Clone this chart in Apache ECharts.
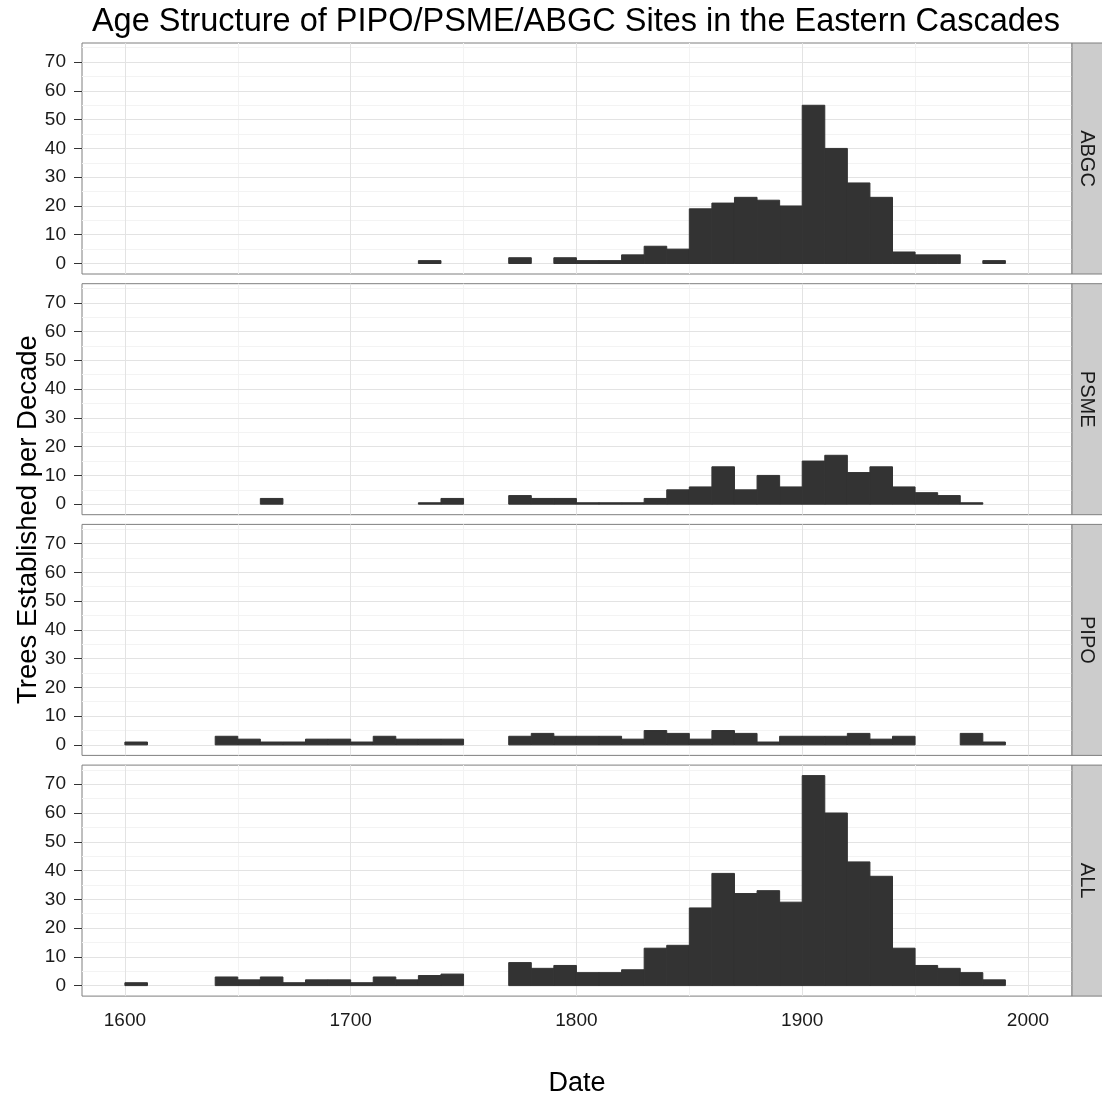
<!DOCTYPE html>
<html>
<head>
<meta charset="utf-8">
<title>Age Structure of PIPO/PSME/ABGC Sites in the Eastern Cascades</title>
<script src="https://cdn.jsdelivr.net/npm/echarts@6/dist/echarts.min.js"></script>
<style>
  html, body { margin: 0; padding: 0; background: #ffffff; }
  #chart { width: 1102px; height: 1099px; }
</style>
</head>
<body>
<div id="chart"></div>
<script>
// Decade bins (start year of each 10-year bin)
const decades = [1600, 1610, 1620, 1630, 1640, 1650, 1660, 1670, 1680, 1690,
                 1700, 1710, 1720, 1730, 1740, 1750, 1760, 1770, 1780, 1790,
                 1800, 1810, 1820, 1830, 1840, 1850, 1860, 1870, 1880, 1890,
                 1900, 1910, 1920, 1930, 1940, 1950, 1960, 1970, 1980, 1990];
const binWidth = 10;

// Trees established per decade, by species
const abgc = [0, 0, 0, 0, 0, 0, 0, 0, 0, 0,
              0, 0, 0, 1, 0, 0, 0, 2, 0, 2,
              1, 1, 3, 6, 5, 19, 21, 23, 22, 20,
              55, 40, 28, 23, 4, 3, 3, 0, 1, 0];
const psme = [0, 0, 0, 0, 0, 0, 2, 0, 0, 0,
              0, 0, 0, 0.5, 2, 0, 0, 3, 2, 2,
              0.5, 0.5, 0.5, 2, 5, 6, 13, 5, 10, 6,
              15, 17, 11, 13, 6, 4, 3, 0.5, 0, 0];
const pipo = [1, 0, 0, 0, 3, 2, 1, 1, 2, 2,
              1, 3, 2, 2, 2, 0, 0, 3, 4, 3,
              3, 3, 2, 5, 4, 2, 5, 4, 1, 3,
              3, 3, 4, 2, 3, 0, 0, 4, 1, 0];
const allSpecies = [1, 0, 0, 0, 3, 2, 3, 1, 2, 2,
                    1, 3, 2, 3.5, 4, 0, 0, 8, 6, 7,
                    4.5, 4.5, 5.5, 13, 14, 27, 39, 32, 33, 29,
                    73, 60, 43, 38, 13, 7, 6, 4.5, 2, 0];

const panelNames = ['ABGC', 'PSME', 'PIPO', 'ALL'];
const panelValues = [abgc, psme, pipo, allSpecies];

// Axis breaks
const xTicks = [1600, 1700, 1800, 1900, 2000];
const xMinor = [1650, 1750, 1850, 1950];
const yTicks = [0, 10, 20, 30, 40, 50, 60, 70];
const yMinor = [5, 15, 25, 35, 45, 55, 65, 75];

// Layout
const FONT = "'Liberation Sans', Arial, sans-serif";
const PANEL_LEFT = 82;
const PANEL_RIGHT = 1072;
const PANEL_TOP = 43;
const PANEL_H = 231;
const PANEL_STEP = 240.7;
const X_MIN = 1581, X_MAX = 2019.5;
const Y_MIN = -3.65, Y_MAX = 76.65;
const BAR_COLOR = '#333333';

const chart = echarts.init(document.getElementById('chart'), null, { renderer: 'canvas' });

// One histogram bin: a rectangle from [start, 0] to [end, count]
function renderBin(params, api) {
  const start = api.value(0), end = api.value(1), v = api.value(2);
  const base = api.coord([start, 0]);
  const top = api.coord([end, v]);
  return {
    type: 'rect',
    shape: { x: base[0], y: top[1], width: top[0] - base[0], height: base[1] - top[1] },
    style: { fill: BAR_COLOR, stroke: BAR_COLOR, lineWidth: 1 }
  };
}

function gridLines() {
  const minor = '#F3F3F3', major = '#E3E3E3';
  return [].concat(
    xMinor.map(v => ({ xAxis: v, lineStyle: { color: minor } })),
    yMinor.map(v => ({ yAxis: v, lineStyle: { color: minor } })),
    xTicks.map(v => ({ xAxis: v, lineStyle: { color: major } })),
    yTicks.map(v => ({ yAxis: v, lineStyle: { color: major } }))
  );
}

const plainNumber = v => String(v);
const grids = [], xAxes = [], yAxes = [], series = [], graphics = [];

panelNames.forEach((name, i) => {
  const top = PANEL_TOP + i * PANEL_STEP;
  const last = i === panelNames.length - 1;
  grids.push({
    left: PANEL_LEFT, top: top, width: PANEL_RIGHT - PANEL_LEFT, height: PANEL_H,
    show: true, backgroundColor: '#ffffff', borderColor: '#7F7F7F', borderWidth: 1
  });
  xAxes.push({
    gridIndex: i, type: 'value', min: X_MIN, max: X_MAX,
    axisLine: { show: false },
    splitLine: { show: false },
    axisTick: last ? { show: true, length: 8, customValues: xTicks, lineStyle: { color: '#333333' } } : { show: false },
    axisLabel: last ? { show: true, customValues: xTicks, formatter: plainNumber, fontSize: 19, color: '#1A1A1A', margin: 15, fontFamily: FONT } : { show: false }
  });
  yAxes.push({
    gridIndex: i, type: 'value', min: Y_MIN, max: Y_MAX,
    axisLine: { show: false },
    splitLine: { show: false },
    axisTick: { show: true, length: 8, customValues: yTicks, lineStyle: { color: '#333333' } },
    axisLabel: { show: true, customValues: yTicks, formatter: plainNumber, fontSize: 19, color: '#1A1A1A', margin: 16, fontFamily: FONT }
  });
  const vals = panelValues[i];
  const data = [];
  decades.forEach((d, k) => { if (vals[k] > 0) data.push([d, d + binWidth, vals[k]]); });
  series.push({
    type: 'custom', name: name, xAxisIndex: i, yAxisIndex: i, z: 3,
    renderItem: renderBin, encode: { x: [0, 1], y: 2 }, data: data,
    silent: true,
    markLine: {
      silent: true, symbol: 'none', z: 1, animation: false,
      label: { show: false }, emphasis: { disabled: true },
      lineStyle: { type: 'solid', width: 1 },
      data: gridLines()
    }
  });
  // facet strip on the right
  graphics.push({
    type: 'rect', z: 10,
    shape: { x: PANEL_RIGHT, y: top, width: 40, height: PANEL_H },
    style: { fill: '#CCCCCC', stroke: '#7F7F7F', lineWidth: 1 }
  });
  graphics.push({
    type: 'text', z: 11, x: 1087, y: top + PANEL_H / 2, rotation: -Math.PI / 2,
    style: { text: name, font: '20px ' + FONT, fill: '#1A1A1A', align: 'center', verticalAlign: 'middle' }
  });
});

// Titles
graphics.push({
  type: 'text', z: 11, x: (PANEL_LEFT + PANEL_RIGHT) / 2 - 1, y: 22,
  style: { text: 'Age Structure of PIPO/PSME/ABGC Sites in the Eastern Cascades', font: '32.5px ' + FONT, fill: '#000000', align: 'center', verticalAlign: 'middle' }
});
graphics.push({
  type: 'text', z: 11, x: (PANEL_LEFT + PANEL_RIGHT) / 2, y: 1084,
  style: { text: 'Date', font: '27px ' + FONT, fill: '#000000', align: 'center', verticalAlign: 'middle' }
});
graphics.push({
  type: 'text', z: 11, x: 28, y: PANEL_TOP + (3 * PANEL_STEP + PANEL_H) / 2, rotation: Math.PI / 2,
  style: { text: 'Trees Established per Decade', font: '27.5px ' + FONT, fill: '#000000', align: 'center', verticalAlign: 'middle' }
});

chart.setOption({
  animation: false,
  backgroundColor: '#ffffff',
  grid: grids,
  xAxis: xAxes,
  yAxis: yAxes,
  series: series,
  graphic: { elements: graphics }
});
</script>
</body>
</html>
